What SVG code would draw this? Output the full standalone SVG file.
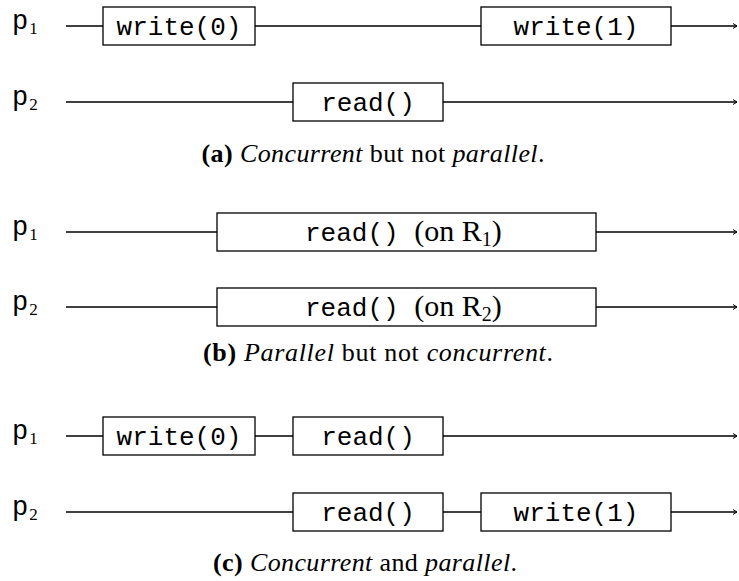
<svg xmlns="http://www.w3.org/2000/svg" width="739" height="581" viewBox="0 0 739 581">
<defs>
<style>
.ln{stroke:#000;stroke-width:1.3;fill:none}
.bx{stroke:#000;stroke-width:1.3;fill:#fff}
.tt{font-family:"Liberation Mono","DejaVu Sans Mono",monospace;font-size:26px;fill:#000}
.pl{font-family:"Liberation Mono","DejaVu Sans Mono",monospace;font-size:27px;fill:#000}
.rm{font-family:"Liberation Serif","DejaVu Serif",serif;font-size:30px}
.sub{font-family:"Liberation Serif","DejaVu Serif",serif;font-size:17px}
.rsub{font-family:"Liberation Serif","DejaVu Serif",serif;font-size:20px}
.cap{font-family:"Liberation Serif","DejaVu Serif",serif;font-size:26px;fill:#000}
.b{font-weight:bold}
.i{font-style:italic}
</style>
<marker id="ah" markerWidth="6" markerHeight="6" refX="5" refY="3" orient="auto" markerUnits="userSpaceOnUse">
<path d="M1,0.5 L5,3 L1,5.5" fill="none" stroke="#000" stroke-width="1"/>
</marker>
</defs>
<g id="connectors">
<line class="ln" x1="66" y1="26" x2="737" y2="26" marker-end="url(#ah)"/>
<line class="ln" x1="66" y1="102" x2="737" y2="102" marker-end="url(#ah)"/>
<line class="ln" x1="66" y1="232" x2="737" y2="232" marker-end="url(#ah)"/>
<line class="ln" x1="66" y1="307" x2="737" y2="307" marker-end="url(#ah)"/>
<line class="ln" x1="66" y1="436" x2="737" y2="436" marker-end="url(#ah)"/>
<line class="ln" x1="66" y1="512" x2="737" y2="512" marker-end="url(#ah)"/>
</g>
<g id="labels">
<text class="pl" x="12" y="29">p<tspan class="sub" dx="1" dy="5">1</tspan></text>
<text class="pl" x="12" y="105">p<tspan class="sub" dx="1" dy="5">2</tspan></text>
<text class="pl" x="12" y="235">p<tspan class="sub" dx="1" dy="5">1</tspan></text>
<text class="pl" x="12" y="310">p<tspan class="sub" dx="1" dy="5">2</tspan></text>
<text class="pl" x="12" y="439">p<tspan class="sub" dx="1" dy="5">1</tspan></text>
<text class="pl" x="12" y="515">p<tspan class="sub" dx="1" dy="5">2</tspan></text>
</g>
<g id="a-p1-write0"><rect class="bx" x="103" y="7" width="152" height="38"/><text class="tt" x="179" y="35" text-anchor="middle">write(0)</text></g>
<g id="a-p1-write1"><rect class="bx" x="481" y="7" width="190" height="38"/><text class="tt" x="576" y="35" text-anchor="middle">write(1)</text></g>
<g id="a-p2-read"><rect class="bx" x="293" y="83" width="150" height="38"/><text class="tt" x="368" y="111" text-anchor="middle">read()</text></g>
<text id="cap-a" class="cap" x="373" y="162" text-anchor="middle" textLength="343" lengthAdjust="spacing"><tspan class="b">(a)</tspan> <tspan class="i">Concurrent</tspan> but not <tspan class="i">parallel</tspan>.</text>
<g id="b-p1-read"><rect class="bx" x="217" y="213" width="379" height="38"/><text class="tt" x="305" y="241">read() <tspan class="rm">(on R</tspan><tspan class="rsub" dy="5">1</tspan><tspan class="rm" dy="-5">)</tspan></text></g>
<g id="b-p2-read"><rect class="bx" x="217" y="288" width="379" height="38"/><text class="tt" x="305" y="316">read() <tspan class="rm">(on R</tspan><tspan class="rsub" dy="5">2</tspan><tspan class="rm" dy="-5">)</tspan></text></g>
<text id="cap-b" class="cap" x="378" y="361" text-anchor="middle" textLength="350" lengthAdjust="spacing"><tspan class="b">(b)</tspan> <tspan class="i">Parallel</tspan> but not <tspan class="i">concurrent</tspan>.</text>
<g id="c-p1-write0"><rect class="bx" x="103" y="417" width="152" height="38"/><text class="tt" x="179" y="445" text-anchor="middle">write(0)</text></g>
<g id="c-p1-read"><rect class="bx" x="293" y="417" width="150" height="38"/><text class="tt" x="368" y="445" text-anchor="middle">read()</text></g>
<g id="c-p2-read"><rect class="bx" x="293" y="493" width="150" height="38"/><text class="tt" x="368" y="521" text-anchor="middle">read()</text></g>
<g id="c-p2-write1"><rect class="bx" x="481" y="493" width="190" height="38"/><text class="tt" x="576" y="521" text-anchor="middle">write(1)</text></g>
<text id="cap-c" class="cap" x="365" y="571" text-anchor="middle" textLength="304" lengthAdjust="spacing"><tspan class="b">(c)</tspan> <tspan class="i">Concurrent</tspan> and <tspan class="i">parallel</tspan>.</text>
</svg>
